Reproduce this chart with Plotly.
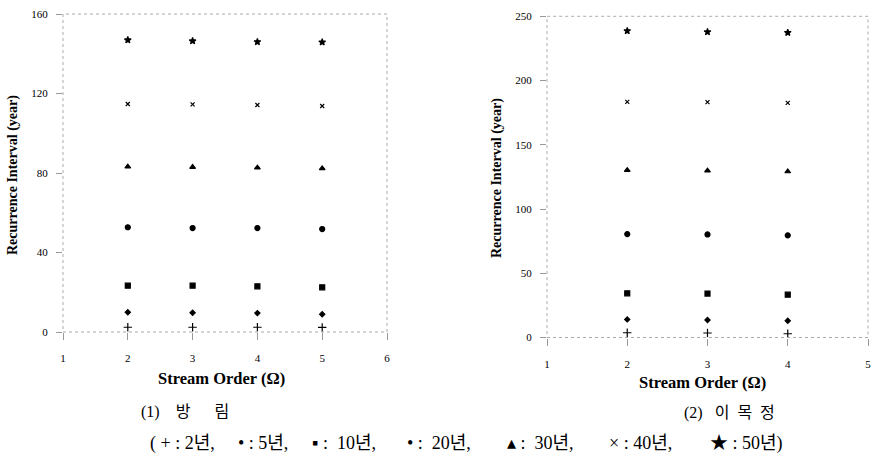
import plotly.graph_objects as go

# ---- data ----
orders_left = [2, 3, 4, 5]
orders_right = [2, 3, 4]
periods = ["2년", "5년", "10년", "20년", "30년", "40년", "50년"]

left_T2 = [2.4, 2.4, 2.4, 2.3]
left_T5 = [9.9, 9.7, 9.5, 8.9]
left_T10 = [23.3, 23.3, 23.0, 22.5]
left_T20 = [52.7, 52.3, 52.3, 51.8]
left_T30 = [83.2, 83.0, 82.7, 82.3]
left_T40 = [114.7, 114.5, 114.2, 113.7]
left_T50 = [146.9, 146.4, 146.0, 145.8]

right_T2 = [3.7, 3.5, 2.9]
right_T5 = [14.1, 13.6, 13.0]
right_T10 = [34.4, 34.2, 33.3]
right_T20 = [80.5, 80.2, 79.5]
right_T30 = [130.2, 129.8, 129.2]
right_T40 = [183.4, 183.2, 182.6]
right_T50 = [238.6, 237.8, 237.3]

left_ticks = [0, 40, 80, 120, 160]
right_ticks = [0, 50, 100, 150, 200, 250]
left_xticks = [1, 2, 3, 4, 5, 6]
right_xticks = [1, 2, 3, 4, 5]

legend_items = ["( + : 2년,", "• : 5년,", "▪ :  10년,", "• :  20년,", "▴ :  30년,", "× : 40년,", "★ : 50년)"]

symbols = ["cross-thin-open", "diamond", "square", "circle", "triangle-up", "x-thin-open", "star"]
sizes = [6, 4, 5, 5, 5, 4, 5]

left_series = [left_T2, left_T5, left_T10, left_T20, left_T30, left_T40, left_T50]
right_series = [right_T2, right_T5, right_T10, right_T20, right_T30, right_T40, right_T50]

SERIF = "Liberation Serif, Times New Roman, serif"
KFONT = "Liberation Serif, Noto Sans CJK KR, serif"

fig = go.Figure()
for name, sym, sz, ys in zip(periods, symbols, sizes, left_series):
    fig.add_trace(go.Scatter(x=orders_left, y=ys, mode="markers", name=name,
                             marker=dict(symbol=sym, size=sz, color="black",
                                         line=dict(color="black", width=1.2)),
                             xaxis="x", yaxis="y", showlegend=False))
for name, sym, sz, ys in zip(periods, symbols, sizes, right_series):
    fig.add_trace(go.Scatter(x=orders_right, y=ys, mode="markers", name=name,
                             marker=dict(symbol=sym, size=sz, color="black",
                                         line=dict(color="black", width=1.2)),
                             xaxis="x2", yaxis="y2", showlegend=False))

W, H = 874, 463
def px(x):
    return x / W
def py(y):
    return 1 - y / H

axis_common = dict(showgrid=False, zeroline=False, showline=False, ticks="outside",
                   tickcolor="#999", tickwidth=1, automargin=False,
                   tickfont=dict(family=SERIF, size=11, color="black"))

fig.update_layout(
    width=W, height=H, margin=dict(l=0, r=0, t=0, b=0),
    paper_bgcolor="white", plot_bgcolor="white",
    xaxis=dict(domain=[px(63), px(387)], range=[1, 6], tickvals=left_xticks,
               anchor="y", ticklen=7, ticklabelstandoff=9, **axis_common),
    yaxis=dict(domain=[py(332), py(14)], range=[0, 160], tickvals=left_ticks,
               anchor="x", ticklen=6, ticklabelstandoff=6, ticklabeloverflow="allow",
               **axis_common),
    xaxis2=dict(domain=[px(547), px(868)], range=[1, 5], tickvals=right_xticks,
                anchor="y2", ticklen=7, ticklabelstandoff=9, ticklabeloverflow="allow",
                **axis_common),
    yaxis2=dict(domain=[py(337.5), py(16.3)], range=[0, 250], tickvals=right_ticks,
                anchor="x2", ticklen=6, ticklabelstandoff=6, ticklabeloverflow="allow",
                **axis_common),
)

# dotted frames
for xr, yr in [("x", "y"), ("x2", "y2")]:
    fig.add_shape(type="rect", xref=f"{xr} domain", yref=f"{yr} domain",
                  x0=0, x1=1, y0=0, y1=1,
                  line=dict(color="#aaa", width=1, dash="dot"))

ann = []
ann.append(dict(text="<b>Recurrence Interval (year)</b>", x=px(13), y=py(175), textangle=-90,
                font=dict(family=SERIF, size=14, color="black")))
ann.append(dict(text="<b>Recurrence Interval (year)</b>", x=px(497), y=py(178), textangle=-90,
                font=dict(family=SERIF, size=14, color="black")))
ann.append(dict(text="<b>Stream Order (Ω)</b>", x=px(221), y=py(378),
                font=dict(family=SERIF, size=16.5, color="black")))
ann.append(dict(text="<b>Stream Order (Ω)</b>", x=px(702), y=py(382),
                font=dict(family=SERIF, size=16.5, color="black")))
ann.append(dict(text="(1)    방      림", x=px(185), y=py(412),
                font=dict(family=KFONT, size=16, color="black")))
ann.append(dict(text="(2)   이  목  정", x=px(729), y=py(413),
                font=dict(family=KFONT, size=16, color="black")))
for a in ann:
    a.setdefault("xanchor", "center")
legend_x = [148, 236, 310, 405, 505, 607, 708]
for txt, lx in zip(legend_items, legend_x):
    ann.append(dict(text=txt, x=px(lx), y=py(443), xanchor="left",
                    font=dict(family=KFONT, size=18, color="black")))
for a in ann:
    a.setdefault("xref", "paper")
    a.setdefault("yref", "paper")
    a.update(showarrow=False, yanchor="middle")
fig.update_layout(annotations=ann)

fig.write_html("out.html", config={"displayModeBar": False},
               post_script="document.body.style.margin='0';document.body.style.padding='0';")
